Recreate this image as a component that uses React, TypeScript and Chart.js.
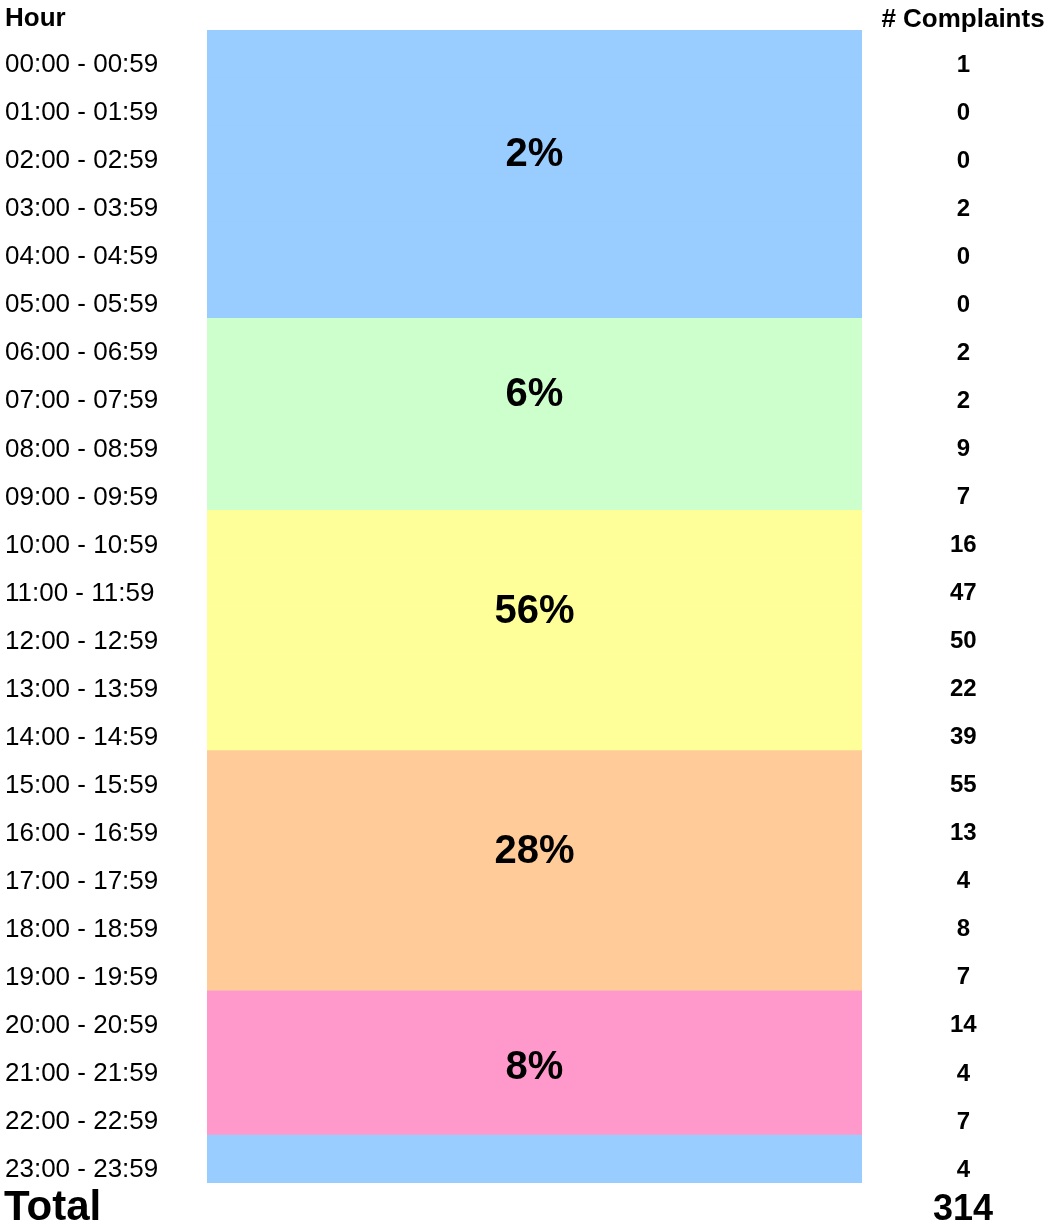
import React, { useEffect, useRef } from "react";
import { Chart, registerables } from "chart.js";

Chart.register(...registerables);

const hours = [
  "00:00 - 00:59", "01:00 - 01:59", "02:00 - 02:59", "03:00 - 03:59",
  "04:00 - 04:59", "05:00 - 05:59", "06:00 - 06:59", "07:00 - 07:59",
  "08:00 - 08:59", "09:00 - 09:59", "10:00 - 10:59", "11:00 - 11:59",
  "12:00 - 12:59", "13:00 - 13:59", "14:00 - 14:59", "15:00 - 15:59",
  "16:00 - 16:59", "17:00 - 17:59", "18:00 - 18:59", "19:00 - 19:59",
  "20:00 - 20:59", "21:00 - 21:59", "22:00 - 22:59", "23:00 - 23:59",
];

const complaints = [1, 0, 0, 2, 0, 0, 2, 2, 9, 7, 16, 47, 50, 22, 39, 55, 13, 4, 8, 7, 14, 4, 7, 4];

const totalComplaints = 314;

// band each hour row belongs to
const bandOfRow = [0, 0, 0, 0, 0, 0, 1, 1, 1, 1, 2, 2, 2, 2, 2, 3, 3, 3, 3, 3, 4, 4, 4, 0];
const bandColors = ["#99CCFF", "#CCFFCC", "#FFFF99", "#FFCC99", "#FF99CC"];
const bandLabels = ["2%", "6%", "56%", "28%", "8%"];
const bandLabelRow = [2, 7, 11.5, 16.5, 21];

// each row is one full-width band cell
const rowFill = [1, 1, 1, 1, 1, 1, 1, 1, 1, 1, 1, 1, 1, 1, 1, 1, 1, 1, 1, 1, 1, 1, 1, 1];

const FONT = "'Liberation Sans', Arial, Helvetica, sans-serif";

const textPlugin = {
  id: "tableText",
  afterDraw(chart: any) {
    const { ctx, chartArea } = chart;
    const yScale = chart.scales.y;
    const countX = chartArea.right + 101;
    const midX = (chartArea.left + chartArea.right) / 2;
    ctx.save();
    ctx.fillStyle = "#000";
    ctx.textBaseline = "middle";

    ctx.font = `bold 40px ${FONT}`;
    ctx.textAlign = "center";
    bandLabels.forEach((lbl, i) => {
      ctx.fillText(lbl, midX, yScale.getPixelForValue(bandLabelRow[i]) + 5);
    });

    ctx.font = `bold 26px ${FONT}`;
    ctx.textAlign = "left";
    ctx.fillText("Hour", 5, 19);
    ctx.textAlign = "center";
    ctx.fillText("# Complaints", countX, 20);

    ctx.font = `bold 42px ${FONT}`;
    ctx.textAlign = "left";
    ctx.fillText("Total", 4, 1208);
    ctx.font = `bold 36px ${FONT}`;
    ctx.textAlign = "center";
    ctx.fillText(String(totalComplaints), countX, 1210);
    ctx.restore();
  },
};

export default function App() {
  const ref = useRef<HTMLCanvasElement | null>(null);

  useEffect(() => {
    if (!ref.current) return;
    const chart = new Chart(ref.current, {
      type: "bar",
      data: {
        labels: hours,
        datasets: [
          {
            data: rowFill,
            backgroundColor: bandOfRow.map((b) => bandColors[b]),
            borderWidth: 0,
            barPercentage: 1,
            categoryPercentage: 1,
          },
        ],
      },
      options: {
        indexAxis: "y",
        animation: false,
        responsive: true,
        maintainAspectRatio: false,
        layout: { padding: { left: 5, right: 0, top: 30, bottom: 43 } },
        plugins: {
          legend: { display: false },
          tooltip: { enabled: false },
          title: { display: false },
        },
        scales: {
          x: { display: false, min: 0, max: 1 },
          y: {
            type: "category",
            position: "left",
            offset: true,
            grid: { display: false, drawTicks: false },
            border: { display: false },
            ticks: {
              crossAlign: "far",
              labelOffset: 11,
              padding: 0,
              color: "#000",
              font: { family: FONT, size: 26 },
            },
            afterFit: (scale: any) => {
              scale.width = 202;
              scale.paddingTop = 0;
              scale.paddingBottom = 0;
            },
          },
          y2: {
            type: "category",
            position: "right",
            labels: complaints.map(String),
            offset: true,
            grid: { display: false, drawTicks: false },
            border: { display: false },
            ticks: {
              crossAlign: "center",
              labelOffset: 11,
              padding: 88,
              color: "#000",
              font: { family: FONT, size: 24, weight: "bold" },
            },
            afterFit: (scale: any) => {
              scale.width = 183;
              scale.paddingTop = 0;
              scale.paddingBottom = 0;
            },
          },
        },
      } as any,
      plugins: [textPlugin],
    });
    return () => chart.destroy();
  }, []);

  return (
    <div style={{ position: "absolute", left: 0, top: 0, width: 1045, height: 1226, background: "#fff" }}>
      <canvas ref={ref} />
    </div>
  );
}
